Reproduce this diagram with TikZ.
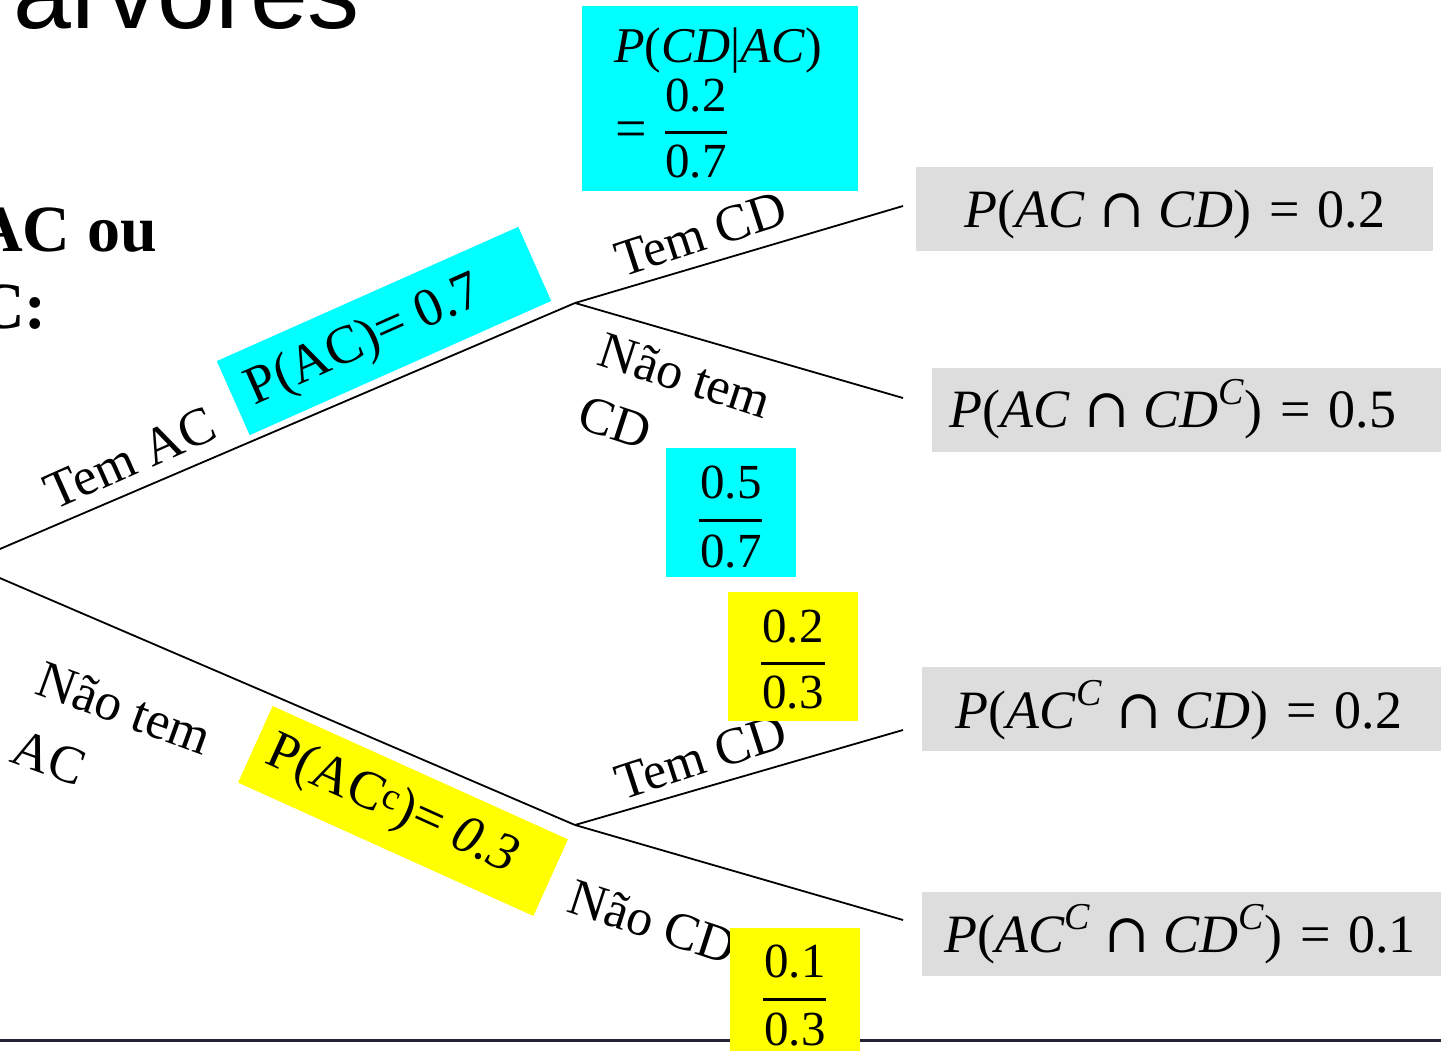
\documentclass[tikz,border=0pt]{standalone}
\usepackage{fontspec}
\setmainfont{Liberation Serif}
\newfontfamily\headfont{Liberation Sans}
\newfontfamily\symfont{DejaVu Serif}
\definecolor{hlcyan}{RGB}{0,255,255}
\definecolor{hlyellow}{RGB}{255,255,0}
\definecolor{boxgray}{RGB}{221,221,221}
\definecolor{rulecol}{RGB}{36,36,56}
\newcommand\ivar[1]{\textit{#1}}
\newcommand\supC{\raisebox{0.42em}{\fontsize{38}{40}\selectfont\textit{C}}}
\newcommand\capsym{\hspace{0.26em}{\symfont ∩}\hspace{0.26em}}
\newcommand\eqsym{\hspace{0.33em}=\hspace{0.33em}}
\begin{document}
\begin{tikzpicture}[x=1pt,y=-1pt,
  branch/.style={line width=1.8pt, black},
  lblL/.style={inner sep=0pt, align=left, font=\fontsize{53}{72}\selectfont},
  lblR/.style={inner sep=0pt, align=left, font=\fontsize{52}{66}\selectfont},
  fnum/.style={anchor=base, inner sep=0pt, font=\fontsize{49}{50}\selectfont},
  fracbar/.style={line width=3pt, black},
  fracbox/.style={inner sep=0pt, minimum width=130pt, minimum height=129pt},
  graybox/.style={fill=boxgray, inner sep=0pt, minimum height=84pt},
  formula/.style={anchor=base, inner sep=0pt, font=\fontsize{54}{60}\selectfont},
  tag/.style={inner sep=0pt, font=\fontsize{54}{60}\selectfont}]
\useasboundingbox (0,0) rectangle (1441,1051);

% heading and question
\node[anchor=base west, inner sep=0pt, font=\headfont\fontsize{104}{110}\selectfont] (title) at (13,29) {árvores};
\node[anchor=base east, inner sep=0pt, font=\bfseries\fontsize{66}{76}\selectfont] (q1) at (157,252) {AC ou};
\node[anchor=base east, inner sep=0pt, font=\bfseries\fontsize{66}{76}\selectfont] (q2) at (47,328) {AC:};

% tree skeleton
\coordinate (root) at (-34,563.5);
\coordinate (n1) at (575,303);
\coordinate (n2) at (575,825);
\coordinate (e1) at (903,206);
\coordinate (e2) at (903,398);
\coordinate (e3) at (903,730);
\coordinate (e4) at (903,920);
\draw[branch] (root) -- (n1);
\draw[branch] (root) -- (n2);
\draw[branch] (n1) -- (e1);
\draw[branch] (n1) -- (e2);
\draw[branch] (n2) -- (e3);
\draw[branch] (n2) -- (e4);

% bottom rule
\coordinate (ruleL) at (0,1040);
\coordinate (ruleR) at (1441,1040);
\draw[line width=3pt, rulecol] (ruleL) -- (ruleR);

% branch labels
\node[lblL, rotate=24] (tac) at (130,458) {Tem AC};
\node[lblL, rotate=-20] (ntac) at (112,742) {Não tem\\AC};
\node[lblR, rotate=18] (tcd1) at (701,234) {Tem CD};
\node[lblR, rotate=-18] (ntcd1) at (675,407) {Não tem\\CD};
\node[lblR, rotate=18] (tcd2) at (701,757) {Tem CD};
\node[lblR, rotate=-18] (ncd2) at (653,922) {Não CD};

% first-level probabilities
\node[rotate=24, fill=hlcyan, inner sep=0pt, minimum width=330pt, minimum height=81pt] (pac) at (384,331) {};
\node[tag, rotate=24] (pacT) at (365,342) {P(AC)= 0.7};
\node[rotate=-24.3, fill=hlyellow, inner sep=0pt, minimum width=324pt, minimum height=84pt] (pacc) at (403,811) {};
\node[tag, rotate=-24.3] (paccT) at (392,806) {P(AC\textsuperscript{c})= \textit{0.3}};

% conditional probability P(CD|AC)
\node[fill=hlcyan, inner sep=0pt, minimum width=276pt, minimum height=185pt] (cdac) at (720,98.5) {};
\node[anchor=base west, inner sep=0pt, font=\fontsize{50}{55}\selectfont] (cdacA) at (614,63) {\ivar{P}(\ivar{CD}|\ivar{AC})};
\node[anchor=base west, inner sep=0pt, font=\fontsize{56}{60}\selectfont] (cdacEq) at (615,148) {=};
\node[fnum] (cdacN) at (696,112) {0.2};
\node[fnum] (cdacD) at (696,178) {0.7};
\draw[fracbar] (665,133) -- (727,133);

% conditional probability of no CD given AC
\node[fracbox, fill=hlcyan] (c57) at (731,512.5) {};
\node[fnum] (c57N) at (731,498) {0.5};
\node[fnum] (c57D) at (731,567) {0.7};
\draw[fracbar] (699,520) -- (762,520);

% conditional probabilities given no AC
\node[fracbox, fill=hlyellow] (y23) at (793,656.5) {};
\node[fnum] (y23N) at (793,642) {0.2};
\node[fnum] (y23D) at (793,708) {0.3};
\draw[fracbar] (761,663) -- (825,663);

\node[fracbox, fill=hlyellow] (y13) at (795,992) {};
\node[fnum] (y13N) at (795,977) {0.1};
\node[fnum] (y13D) at (795,1045) {0.3};
\draw[fracbar] (763,999) -- (826,999);

% joint probabilities
\node[graybox, minimum width=517pt] (g1) at (1174.5,209) {};
\node[formula] (f1) at (1175,228) {\ivar{P}(\ivar{AC}\capsym\ivar{CD})\eqsym 0.2};
\node[graybox, minimum width=520pt, anchor=west] (g2) at (932,410) {};
\node[formula] (f2) at (1173,427) {\ivar{P}(\ivar{AC}\capsym\ivar{CD}\supC)\eqsym 0.5};
\node[graybox, minimum width=530pt, anchor=west] (g3) at (922,709) {};
\node[formula] (f3) at (1179,728) {\ivar{P}(\ivar{AC}\supC\capsym\ivar{CD})\eqsym 0.2};
\node[graybox, minimum width=530pt, anchor=west] (g4) at (922,933.5) {};
\node[formula] (f4) at (1180,952) {\ivar{P}(\ivar{AC}\supC\capsym\ivar{CD}\supC)\eqsym 0.1};
\end{tikzpicture}
\end{document}
